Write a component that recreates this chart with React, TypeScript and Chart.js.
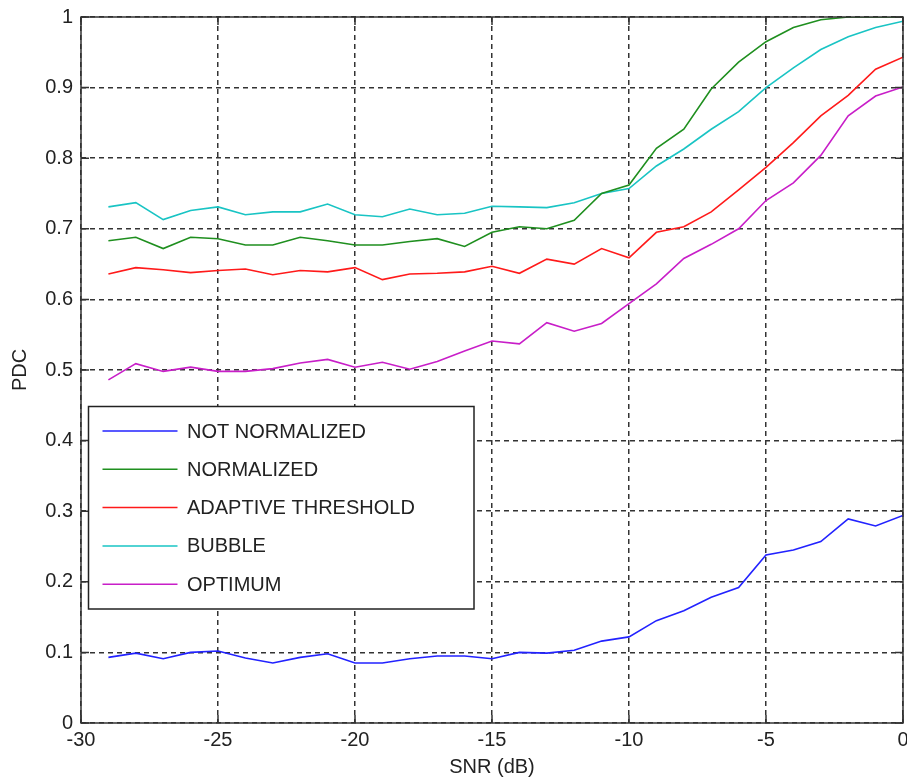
import React, { useEffect, useRef } from "react";
import { Chart, registerables } from "chart.js";

Chart.register(...registerables);

const snr = [-29, -28, -27, -26, -25, -24, -23, -22, -21, -20, -19, -18, -17, -16, -15, -14, -13, -12, -11, -10, -9, -8, -7, -6, -5, -4, -3, -2, -1, 0];

const notNormalized = [0.093, 0.099, 0.091, 0.100, 0.102, 0.092, 0.085, 0.093, 0.098, 0.085, 0.085, 0.091, 0.095, 0.095, 0.091, 0.100, 0.099, 0.103, 0.116, 0.122, 0.145, 0.159, 0.178, 0.192, 0.238, 0.245, 0.257, 0.289, 0.279, 0.294];
const normalized = [0.683, 0.688, 0.672, 0.688, 0.686, 0.677, 0.677, 0.688, 0.683, 0.677, 0.677, 0.682, 0.686, 0.675, 0.695, 0.703, 0.700, 0.712, 0.750, 0.762, 0.814, 0.841, 0.898, 0.936, 0.965, 0.985, 0.996, 1.0, 1.0, 1.0];
const adaptiveThreshold = [0.636, 0.645, 0.642, 0.638, 0.641, 0.643, 0.635, 0.641, 0.639, 0.645, 0.628, 0.636, 0.637, 0.639, 0.647, 0.637, 0.657, 0.650, 0.672, 0.659, 0.695, 0.703, 0.724, 0.755, 0.787, 0.822, 0.860, 0.889, 0.926, 0.943];
const bubble = [0.731, 0.737, 0.713, 0.726, 0.731, 0.720, 0.724, 0.724, 0.735, 0.720, 0.717, 0.728, 0.720, 0.722, 0.732, 0.731, 0.730, 0.737, 0.750, 0.757, 0.789, 0.813, 0.841, 0.866, 0.900, 0.928, 0.954, 0.972, 0.985, 0.994];
const optimum = [0.486, 0.509, 0.498, 0.504, 0.498, 0.498, 0.502, 0.510, 0.515, 0.504, 0.511, 0.501, 0.512, 0.527, 0.541, 0.537, 0.567, 0.555, 0.566, 0.594, 0.622, 0.658, 0.678, 0.700, 0.740, 0.765, 0.804, 0.860, 0.888, 0.901];

const seriesNames = ["NOT NORMALIZED", "NORMALIZED", "ADAPTIVE THRESHOLD", "BUBBLE", "OPTIMUM"];
const seriesValues = [notNormalized, normalized, adaptiveThreshold, bubble, optimum];
const seriesColors = ["#2222ff", "#1f8f1f", "#ff1a1a", "#19c4c4", "#c81ec8"];

const xTickValues = [-30, -25, -20, -15, -10, -5, 0];
const xTickLabels = ["-30", "-25", "-20", "-15", "-10", "-5", "0"];
const yTickValues = [0, 0.1, 0.2, 0.3, 0.4, 0.5, 0.6, 0.7, 0.8, 0.9, 1];
const yTickLabels = ["0", "0.1", "0.2", "0.3", "0.4", "0.5", "0.6", "0.7", "0.8", "0.9", "1"];

const FONT = '"Liberation Sans", Arial, sans-serif';
const TEXT = "#222222";

const boxPlugin = {
  id: "matlabBox",
  afterDatasetsDraw(chart: any) {
    const { ctx, chartArea } = chart;
    const { left, right, top, bottom } = chartArea;
    const xs = chart.scales.x;
    const ys = chart.scales.y;
    ctx.save();
    ctx.strokeStyle = "#333333";
    ctx.lineWidth = 1.5;
    ctx.setLineDash([]);
    ctx.strokeRect(left, top, right - left, bottom - top);
    ctx.lineWidth = 1.5;
    const tl = 8;
    ctx.beginPath();
    xTickValues.forEach((v) => {
      const px = xs.getPixelForValue(v);
      ctx.moveTo(px, bottom);
      ctx.lineTo(px, bottom - tl);
      ctx.moveTo(px, top);
      ctx.lineTo(px, top + tl);
    });
    yTickValues.forEach((v) => {
      const py = ys.getPixelForValue(v);
      ctx.moveTo(left, py);
      ctx.lineTo(left + tl, py);
      ctx.moveTo(right, py);
      ctx.lineTo(right - tl, py);
    });
    ctx.stroke();

    // legend
    const lx = 88.5, ly = 406.5, lw = 385.5, lh = 202.5;
    ctx.fillStyle = "#ffffff";
    ctx.fillRect(lx, ly, lw, lh);
    ctx.strokeStyle = "#222222";
    ctx.lineWidth = 1.5;
    ctx.strokeRect(lx, ly, lw, lh);
    ctx.font = `20px ${FONT}`;
    ctx.textAlign = "left";
    ctx.textBaseline = "middle";
    seriesNames.forEach((name, i) => {
      const ry = 431 + i * 38.3;
      ctx.strokeStyle = seriesColors[i];
      ctx.lineWidth = 1.5;
      ctx.beginPath();
      ctx.moveTo(102.5, ry);
      ctx.lineTo(177.5, ry);
      ctx.stroke();
      ctx.fillStyle = TEXT;
      ctx.fillText(name, 187, ry + 1);
    });
    ctx.restore();
  },
};

export default function App() {
  const ref = useRef<HTMLCanvasElement | null>(null);

  useEffect(() => {
    if (!ref.current) return;
    const chart = new Chart(ref.current, {
      type: "line",
      data: {
        datasets: seriesNames.map((name, i) => ({
          label: name,
          data: snr.map((x, j) => ({ x, y: seriesValues[i][j] })),
          borderColor: seriesColors[i],
          backgroundColor: seriesColors[i],
          borderWidth: 1.6,
          pointRadius: 0,
          tension: 0,
          fill: false,
        })),
      },
      options: {
        animation: false,
        responsive: true,
        maintainAspectRatio: false,
        layout: { padding: { top: 17, right: 4, left: 0, bottom: 0 } },
        plugins: {
          legend: { display: false },
          tooltip: { enabled: false },
        },
        scales: {
          x: {
            type: "linear",
            min: -30,
            max: 0,
            afterBuildTicks(scale: any) {
              scale.ticks = xTickValues.map((v) => ({ value: v }));
            },
            afterFit(scale: any) {
              scale.height = 58;
              scale.paddingLeft = 0;
              scale.paddingRight = 0;
            },
            ticks: {
              autoSkip: false,
              maxRotation: 0,
              padding: 5,
              color: TEXT,
              font: { family: FONT, size: 20 },
              callback: (v: any) => {
                const k = xTickValues.indexOf(Number(v));
                return k >= 0 ? xTickLabels[k] : "";
              },
            },
            grid: {
              color: "#333333",
              lineWidth: 1.5,
              drawTicks: false,
            },
            border: { display: false, dash: [5, 4] },
            title: {
              display: true,
              text: "SNR (dB)",
              color: TEXT,
              font: { family: FONT, size: 20 },
              padding: { top: 0, bottom: 2 },
            },
          },
          y: {
            type: "linear",
            min: 0,
            max: 1,
            afterBuildTicks(scale: any) {
              scale.ticks = yTickValues.map((v) => ({ value: v }));
            },
            afterFit(scale: any) {
              scale.width = 81;
              scale.paddingTop = 0;
              scale.paddingBottom = 0;
            },
            ticks: {
              autoSkip: false,
              padding: 8,
              color: TEXT,
              font: { family: FONT, size: 20 },
              callback: (v: any) => {
                const k = yTickValues.findIndex((t) => Math.abs(t - Number(v)) < 1e-9);
                return k >= 0 ? yTickLabels[k] : "";
              },
            },
            grid: {
              color: "#333333",
              lineWidth: 1.5,
              drawTicks: false,
            },
            border: { display: false, dash: [5, 4] },
            title: {
              display: true,
              text: "PDC",
              color: TEXT,
              font: { family: FONT, size: 20 },
              padding: { top: 8, bottom: 0 },
            },
          },
        },
      },
      plugins: [boxPlugin],
    });
    return () => chart.destroy();
  }, []);

  return (
    <div style={{ position: "fixed", left: 0, top: 0, width: 907, height: 781, background: "#ffffff" }}>
      <canvas ref={ref} />
    </div>
  );
}
